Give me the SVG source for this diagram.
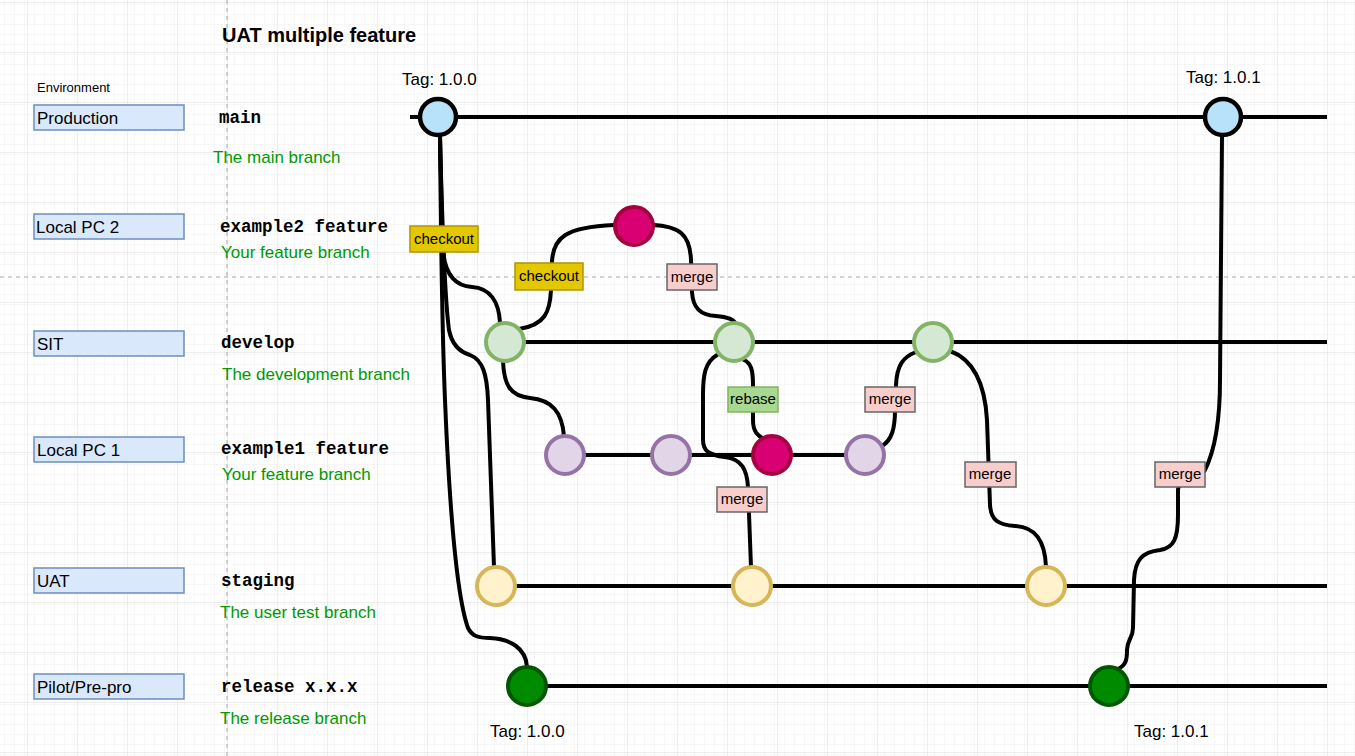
<svg xmlns="http://www.w3.org/2000/svg" width="1355" height="756" viewBox="0 0 1355 756">
  <defs>
    <pattern id="gridMinor" x="7" y="2" width="10" height="10" patternUnits="userSpaceOnUse">
      <path d="M 10 0 L 0 0 0 10" fill="none" stroke="#f0f0f0" stroke-width="1"/>
    </pattern>
    <pattern id="gridMajor" x="27" y="2" width="50" height="50" patternUnits="userSpaceOnUse">
      <rect width="50" height="50" fill="url(#gridMinor)"/>
      <path d="M 50 0 L 0 0 0 50" fill="none" stroke="#dcdcdc" stroke-width="1"/>
    </pattern>
    <style>
      .env rect { fill: #dae8fc; stroke: #6c8ebf; stroke-width: 1.5; }
      .env text { font-family: "Liberation Sans", Arial, sans-serif; font-size: 17px; fill: #000; }
      .bname { font-family: "Liberation Mono", "Courier New", monospace; font-size: 17.5px; font-weight: bold; fill: #000; }
      .bdesc { font-family: "Liberation Sans", Arial, sans-serif; font-size: 17px; fill: #009900; }
      .tag { font-family: "Liberation Sans", Arial, sans-serif; font-size: 17px; fill: #000; }
      .branch { stroke: #000; stroke-width: 4; fill: none; }
      .edge { stroke: #000; stroke-width: 4; fill: none; stroke-linecap: round; }
      .lbl text { font-family: "Liberation Sans", Arial, sans-serif; font-size: 15px; fill: #000; text-anchor: middle; }
      .checkout rect { fill: #e3c800; stroke: #b09500; stroke-width: 1.5; }
      .merge rect { fill: #f8cecc; stroke: #666666; stroke-width: 1.5; }
      .rebase rect { fill: #a9d891; stroke: #82b366; stroke-width: 1.5; }
      .c-main { fill: #b8e1fa; stroke: #000; stroke-width: 4.5; }
      .c-dev { fill: #d5e8d4; stroke: #82b366; stroke-width: 4; }
      .c-feat { fill: #e1d5e7; stroke: #9673a6; stroke-width: 4; }
      .c-mag { fill: #d80073; stroke: #a50040; stroke-width: 4; }
      .c-stg { fill: #fff2cc; stroke: #d6b656; stroke-width: 4; }
      .c-rel { fill: #008a00; stroke: #005700; stroke-width: 4; }
      .guide { stroke: #c4c4c4; stroke-width: 1.5; stroke-dasharray: 4 4; }
    </style>
  </defs>

  <!-- background grid -->
  <rect width="1355" height="756" fill="#ffffff"/>
  <rect width="1355" height="756" fill="url(#gridMajor)"/>
  <line class="guide" x1="227" y1="0" x2="227" y2="756"/>
  <line class="guide" x1="0" y1="277" x2="1355" y2="277"/>

  <!-- title -->
  <text x="222" y="42" font-family="Liberation Sans, Arial, sans-serif" font-size="20" font-weight="bold" fill="#000">UAT multiple feature</text>
  <text x="37" y="92" font-family="Liberation Sans, Arial, sans-serif" font-size="13" fill="#000">Environment</text>

  <!-- environment boxes -->
  <g id="env-production" class="env"><rect x="34" y="105" width="150" height="25"/><text x="37" y="124">Production</text></g>
  <g id="env-localpc2" class="env"><rect x="34" y="214" width="150" height="25"/><text x="36" y="233">Local PC 2</text></g>
  <g id="env-sit" class="env"><rect x="34" y="331" width="150" height="25"/><text x="37" y="350">SIT</text></g>
  <g id="env-localpc1" class="env"><rect x="34" y="437" width="150" height="25"/><text x="37" y="456">Local PC 1</text></g>
  <g id="env-uat" class="env"><rect x="34" y="568" width="150" height="25"/><text x="37" y="587">UAT</text></g>
  <g id="env-pilot" class="env"><rect x="34" y="674" width="150" height="25"/><text x="37" y="693">Pilot/Pre-pro</text></g>

  <!-- branch names and descriptions -->
  <g id="lbl-main"><text class="bname" x="219" y="123">main</text><text class="bdesc" x="213" y="163">The main branch</text></g>
  <g id="lbl-example2"><text class="bname" x="220" y="232">example2 feature</text><text class="bdesc" x="221" y="258">Your feature branch</text></g>
  <g id="lbl-develop"><text class="bname" x="221" y="348">develop</text><text class="bdesc" x="222" y="380">The development branch</text></g>
  <g id="lbl-example1"><text class="bname" x="221" y="454">example1 feature</text><text class="bdesc" x="222" y="480">Your feature branch</text></g>
  <g id="lbl-staging"><text class="bname" x="221" y="586">staging</text><text class="bdesc" x="220" y="618">The user test branch</text></g>
  <g id="lbl-release"><text class="bname" x="221" y="692">release x.x.x</text><text class="bdesc" x="220" y="724">The release branch</text></g>

  <!-- tags -->
  <text class="tag" x="402" y="85">Tag: 1.0.0</text>
  <text class="tag" x="1186" y="83">Tag: 1.0.1</text>
  <text class="tag" x="490" y="737">Tag: 1.0.0</text>
  <text class="tag" x="1134" y="737">Tag: 1.0.1</text>

  <!-- connectors: branch lines and edges between commits -->
  <g id="connectors">
    <line class="branch" x1="410" y1="117" x2="1327" y2="117"/>
    <line class="branch" x1="505" y1="342" x2="1327" y2="342"/>
    <line class="branch" x1="565" y1="455" x2="865" y2="455"/>
    <line class="branch" x1="494" y1="586" x2="1327" y2="586"/>
    <line class="branch" x1="527" y1="686" x2="1327" y2="686"/>

    <!-- main 1.0.0 to develop -->
    <path class="edge" d="M 440,136 C 441,180 442,230 443,250 C 445,275 455,286 472,287 C 490,288 499,302 500,323"/>
    <!-- main 1.0.0 to staging -->
    <path class="edge" d="M 440,136 C 442,220 445,300 449,330 C 452,345 460,352 470,355 C 483,360 487,375 488,400 L 494,567"/>
    <!-- main 1.0.0 to release -->
    <path class="edge" d="M 440,136 C 441,250 442,330 445,400 C 450,520 458,600 468,628 C 472,636 478,638 490,638 C 510,639 526,648 527,667"/>
    <!-- develop to example2 -->
    <path class="edge" d="M 519,329 C 545,325 550,312 551,290 L 552,262 C 553,238 565,227 614,225"/>
    <!-- example2 merge into develop -->
    <path class="edge" d="M 652,225 C 680,226 690,235 691,260 L 692,292 C 693,308 700,315 716,316 C 728,317 734,320 735,323"/>
    <!-- develop to example1 -->
    <path class="edge" d="M 503,361 C 504,385 510,396 530,398 C 552,400 562,412 564,436"/>
    <!-- develop merge into staging -->
    <path class="edge" d="M 717,355 C 705,362 703,375 703,395 L 703,440 C 703,452 710,455 725,457 C 742,459 747,470 748,487 L 751,567"/>
    <!-- develop rebase onto example1 -->
    <path class="edge" d="M 744,360 C 751,363 753,370 753,385 L 753,420 C 753,432 758,436 764,439"/>
    <!-- example1 merge into develop -->
    <path class="edge" d="M 882,446 C 892,440 895,428 895,410 L 896,385 C 897,365 903,357 916,352"/>
    <!-- develop merge into staging -->
    <path class="edge" d="M 950,351 C 975,360 985,385 987,420 L 990,505 C 991,520 998,525 1015,526 C 1035,527 1045,540 1046,567"/>
    <!-- release merge into main -->
    <path class="edge" d="M 1118,669 C 1126,665 1127,660 1127,650 C 1127,640 1133,638 1133,628 L 1134,580 C 1135,560 1142,552 1160,550 C 1174,548 1178,538 1178,515 L 1178,490 C 1178,480 1200,480 1205,470 C 1215,450 1220,420 1220,380 L 1222,136"/>

    <!-- edge labels -->
    <g class="lbl checkout"><rect x="410" y="226" width="68" height="26"/><text x="444" y="244">checkout</text></g>
    <g class="lbl checkout"><rect x="515" y="263" width="68" height="27"/><text x="549" y="281">checkout</text></g>
    <g class="lbl merge"><rect x="667" y="264" width="50" height="26"/><text x="692" y="282">merge</text></g>
    <g class="lbl rebase"><rect x="728" y="387" width="50" height="25"/><text x="753" y="404">rebase</text></g>
    <g class="lbl merge"><rect x="865" y="387" width="50" height="25"/><text x="890" y="404">merge</text></g>
    <g class="lbl merge"><rect x="717" y="487" width="50" height="25"/><text x="742" y="504">merge</text></g>
    <g class="lbl merge"><rect x="965" y="462" width="51" height="25"/><text x="990" y="479">merge</text></g>
    <g class="lbl merge"><rect x="1155" y="462" width="50" height="25"/><text x="1180" y="479">merge</text></g>
  </g>

  <!-- commits -->
  <g id="main-1"><circle class="c-main" cx="438" cy="117" r="18"/></g>
  <g id="main-2"><circle class="c-main" cx="1223" cy="117" r="18"/></g>
  <g id="develop-1"><circle class="c-dev" cx="505" cy="342" r="19"/></g>
  <g id="develop-2"><circle class="c-dev" cx="734" cy="342" r="19"/></g>
  <g id="develop-3"><circle class="c-dev" cx="933" cy="342" r="19"/></g>
  <g id="example2-1"><circle class="c-mag" cx="634" cy="226" r="19"/></g>
  <g id="example1-1"><circle class="c-feat" cx="565" cy="455" r="19"/></g>
  <g id="example1-2"><circle class="c-feat" cx="671" cy="455" r="19"/></g>
  <g id="example1-3"><circle class="c-mag" cx="772" cy="455" r="19"/></g>
  <g id="example1-4"><circle class="c-feat" cx="865" cy="455" r="19"/></g>
  <g id="staging-1"><circle class="c-stg" cx="496" cy="586" r="19"/></g>
  <g id="staging-2"><circle class="c-stg" cx="752" cy="586" r="19"/></g>
  <g id="staging-3"><circle class="c-stg" cx="1046" cy="586" r="19"/></g>
  <g id="release-1"><circle class="c-rel" cx="527" cy="686" r="19"/></g>
  <g id="release-2"><circle class="c-rel" cx="1109" cy="686" r="19"/></g>
</svg>
